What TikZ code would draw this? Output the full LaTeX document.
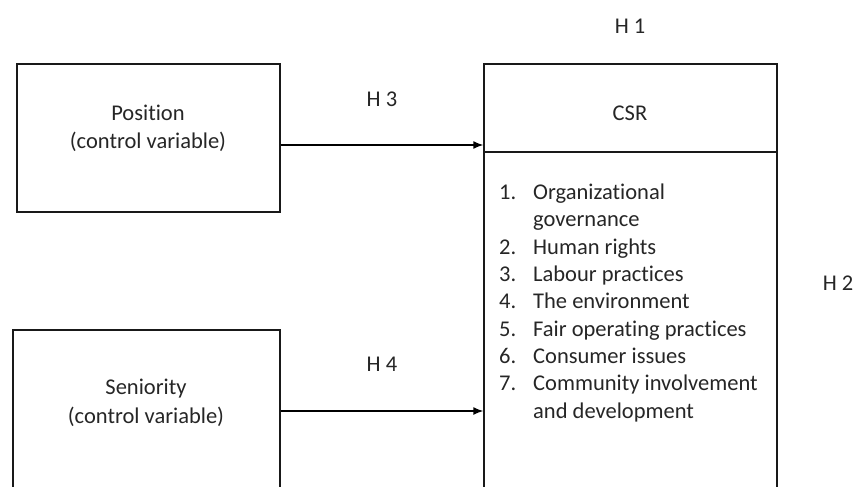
\documentclass[tikz,border=0pt]{standalone}
\usepackage{fontspec}
\setmainfont{Carlito}[Ligatures=NoCommon]
\tikzset{
  box/.style={draw=black!90, line width=1.4pt, inner sep=0pt, fill=none},
  txt/.style={anchor=base, text=black!85, inner sep=0pt},
  itm/.style={anchor=base west, text=black!85, inner sep=0pt},
  conn/.style={draw=black, line width=1.4pt, -{Latex[length=10pt,width=8pt]}}
}
\usetikzlibrary{arrows.meta}
\begin{document}
\begin{tikzpicture}[x=1pt,y=-1pt, font=\fontsize{22.5}{27.3}\selectfont]
\clip (0,0) rectangle (862,487);
% boxes
\node[box, minimum width=263pt, minimum height=148pt] (pos) at (148.5,138) {};
\node[box, minimum width=267pt, minimum height=180pt] (sen) at (146.5,420) {};
\node[box, minimum width=293pt, minimum height=440pt] (csr) at (630.5,284) {};
\coordinate (dl) at (484,152);
\coordinate (dr) at (777,152);
\draw[line width=1.4pt, black!90] (dl) -- (dr);
% box texts
\node[txt] (pos1) at (148,120) {Position};
\node[txt] (pos2) at (148,148.5) {(control variable)};
\node[txt] (sen1) at (146,394.5) {Seniority};
\node[txt] (sen2) at (146,423.5) {(control variable)};
\node[txt] (csrt) at (630,120) {CSR};
% hypotheses
\node[txt] (h1) at (630,34) {H 1};
\node[txt] (h2) at (838,290) {H 2};
\node[txt] (h3) at (382,106.5) {H 3};
\node[txt] (h4) at (382,371.5) {H 4};
% list
\def\nx{499}\def\tx{533}
\node[itm] (n1) at (\nx,199.5) {1.};
\node[itm] (t1) at (\tx,199.5) {Organizational};
\node[itm] (t1b) at (\tx,226.8) {governance};
\node[itm] (n2) at (\nx,254.2) {2.};
\node[itm] (t2) at (\tx,254.2) {Human rights};
\node[itm] (n3) at (\nx,281.5) {3.};
\node[itm] (t3) at (\tx,281.5) {Labour practices};
\node[itm] (n4) at (\nx,308.8) {4.};
\node[itm] (t4) at (\tx,308.8) {The environment};
\node[itm] (n5) at (\nx,336.1) {5.};
\node[itm] (t5) at (\tx,336.1) {Fair operating practices};
\node[itm] (n6) at (\nx,363.5) {6.};
\node[itm] (t6) at (\tx,363.5) {Consumer issues};
\node[itm] (n7) at (\nx,390.8) {7.};
\node[itm] (t7) at (\tx,390.8) {Community involvement};
\node[itm] (t7b) at (\tx,418.1) {and development};
% connectors
\draw[conn] (pos.east |- 0,145) -- (csr.west |- 0,145);
\draw[conn] (sen.east |- 0,411) -- (csr.west |- 0,411);
\end{tikzpicture}
\end{document}
